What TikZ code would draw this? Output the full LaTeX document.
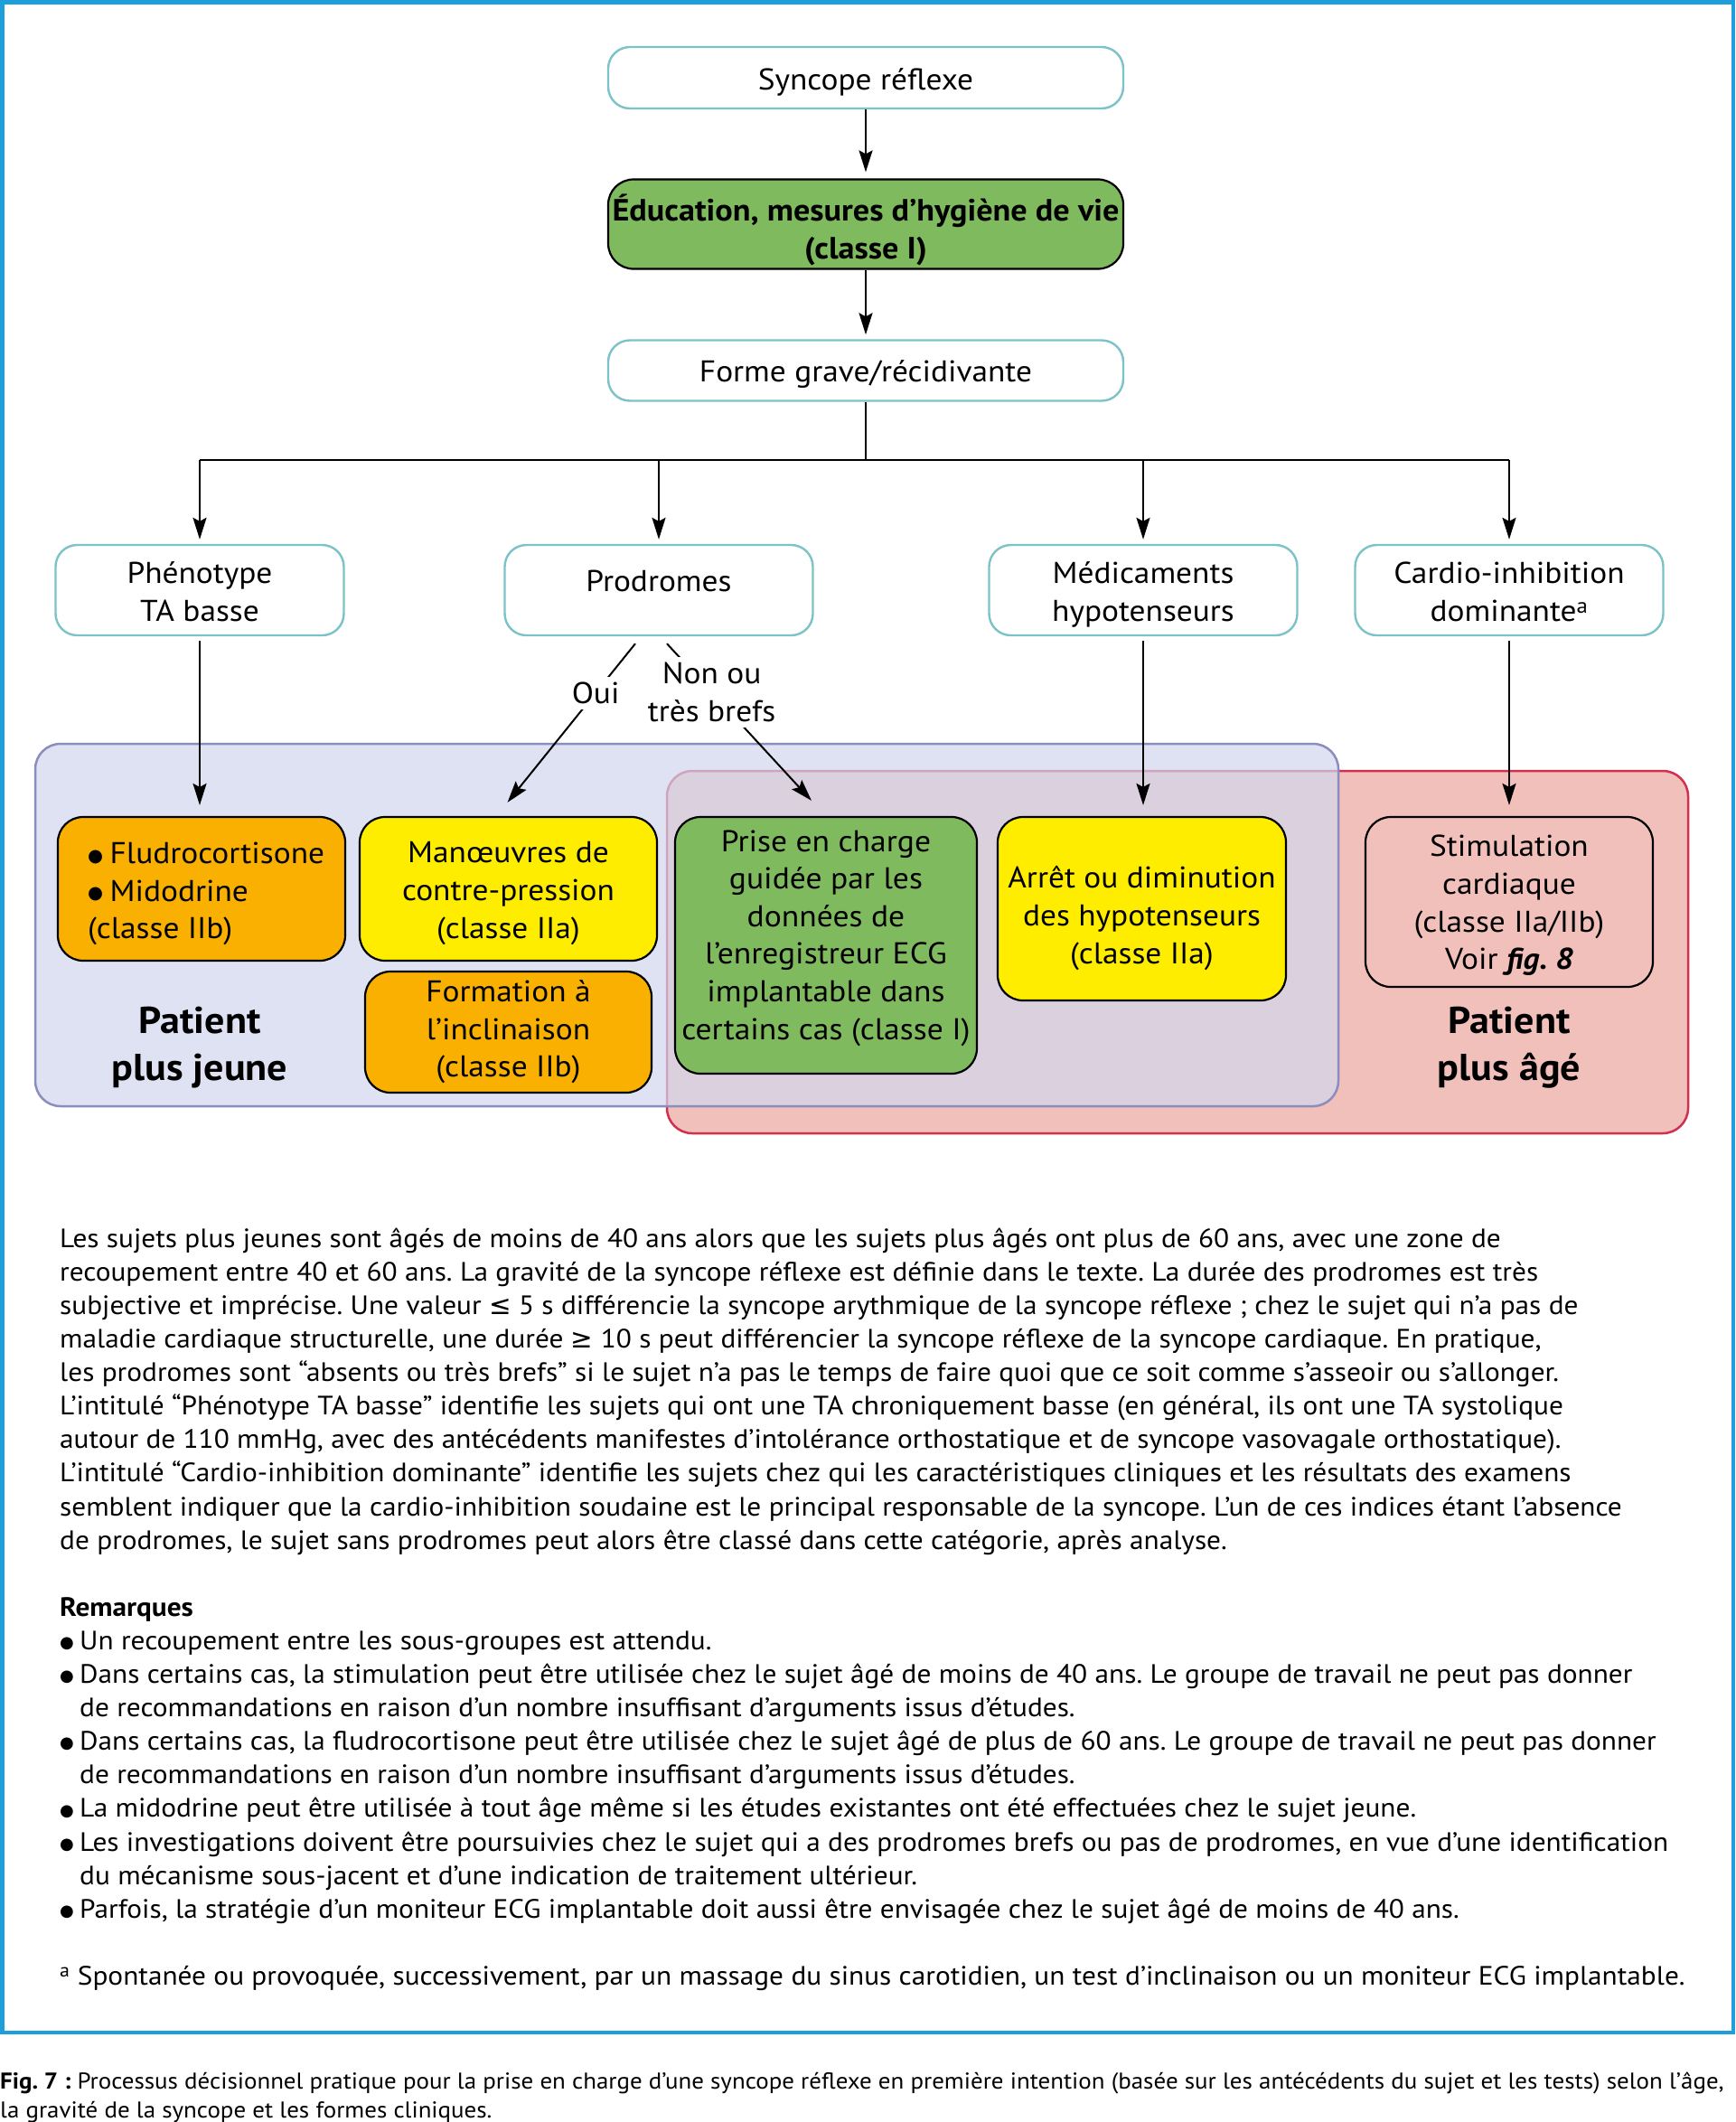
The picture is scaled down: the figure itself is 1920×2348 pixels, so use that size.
\documentclass[tikz,border=0pt]{standalone}
\usepackage{fontspec}
\setmainfont{PT Sans}[FakeStretch=1.065]
\newfontfamily\dv{DejaVu Sans}
\usetikzlibrary{arrows.meta,calc}
\definecolor{frameblue}{HTML}{1E9FDB}
\definecolor{tealc}{HTML}{7CC3C8}
\definecolor{greenc}{HTML}{7FBA5F}
\definecolor{orangec}{HTML}{F9B000}
\definecolor{yellowc}{HTML}{FFED00}
\definecolor{bluefill}{RGB}{208,215,238}
\definecolor{blueline}{HTML}{8A8DBE}
\definecolor{redfill}{HTML}{F2C0BB}
\definecolor{redline}{HTML}{D02F4F}
\newcommand\bbul{\makebox[24.5pt][l]{\raisebox{2.5pt}{\dv\fontsize{19.5}{19.5}\selectfont ●}}}
\newcommand\tbul{\makebox[22pt][l]{\raisebox{1.8pt}{\dv\fontsize{18}{18}\selectfont ●}}}
\tikzset{
  tbox/.style={draw=tealc, line width=2.4pt, rounded corners=24pt, fill=white, inner sep=0pt},
  cbox/.style={draw=black, line width=2.2pt, rounded corners=28pt, inner sep=0pt},
  btxt/.style={inner sep=0pt, align=center, font=\fontsize{33.2}{42}\selectfont},
  plain/.style={line width=2pt, draw=black},
  arr/.style={plain, -{Stealth[length=24pt,width=15pt,inset=4pt]}},
  lbl/.style={fill=white, inner sep=6pt, align=center, font=\fontsize{33.2}{42}\selectfont},
  pat/.style={align=center, inner sep=0pt, font=\fontsize{41.4}{52}\selectfont\bfseries},
}
\begin{document}
\frenchspacing
\begin{tikzpicture}[x=1pt,y=-1pt]
\useasboundingbox (0,0) rectangle (1920,2348);
\fill[white] (0,0) rectangle (1920,2348);
% outer frame
\draw[frameblue, line width=4.5pt] (2.25,2.25) rectangle (1917.75,2249);

% top chain
\node[tbox, minimum width=570pt, minimum height=68pt] (syn) at (958,86) {};
\node[btxt] (synt) at (958,90.5) {Syncope réflexe};
\node[cbox, fill=greenc, minimum width=570pt, minimum height=99pt] (edu) at (958,248) {};
\node[btxt, font=\fontsize{34}{42}\selectfont\bfseries] (edut) at (958,254) {Éducation, mesures d’hygiène de vie\\(classe I)};
\node[tbox, minimum width=570pt, minimum height=67pt] (forme) at (958,410) {};
\node[btxt] (formet) at (958,414.5) {Forme grave/récidivante};
\draw[arr, shorten >=7pt] (syn.south) -- (edu.north);
\draw[arr, shorten >=5pt] (edu.south) -- (forme.north);

% second row
\node[tbox, minimum width=319pt, minimum height=100pt] (phen) at (221,653) {};
\node[btxt] (phent) at (221,655) {Phénotype\\TA basse};
\node[tbox, minimum width=341pt, minimum height=100pt] (prod) at (729,653) {};
\node[btxt] (prodt) at (729,643) {Prodromes};
\node[tbox, minimum width=341pt, minimum height=100pt] (med) at (1265,653) {};
\node[btxt] (medt) at (1265,658) {Médicaments\\hypotenseurs};
\node[tbox, minimum width=341pt, minimum height=100pt] (card) at (1670,653) {};
\node[btxt] (cardt) at (1670,655) {Cardio-inhibition\\dominante\textsuperscript{a}};

\coordinate (hub) at (958,509);
\draw[plain] (forme.south) -- (hub);
\draw[plain] (phen.north |- hub) -- (card.north |- hub);
\foreach \n in {phen,prod,med,card} \draw[arr, shorten >=5pt] (\n.north |- hub) -- (\n.north);

% regions
\path[fill=redfill, draw=redline, line width=2.5pt, rounded corners=28pt] (738,853) rectangle (1868,1254);
\path[fill=bluefill, fill opacity=0.7, draw=blueline, line width=2.5pt, rounded corners=28pt] (39,823) rectangle (1481,1224);

% treatment boxes
\node[cbox, fill=orangec, minimum width=318pt, minimum height=159pt] (flu) at (223,983.5) {};
\node[btxt, anchor=west, align=left, font=\fontsize{33.2}{41.6}\selectfont] (flut) at (97,989) {\bbul Fludrocortisone\\\bbul Midodrine\\(classe IIb)};
\node[cbox, fill=yellowc, minimum width=329pt, minimum height=159pt] (man) at (562.5,983.5) {};
\node[btxt, font=\fontsize{33.2}{41.6}\selectfont] (mant) at (562.5,988.5) {Manœuvres de\\contre-pression\\(classe IIa)};
\node[cbox, fill=orangec, minimum width=317pt, minimum height=134pt] (form) at (562.5,1142) {};
\node[btxt, font=\fontsize{33.2}{41.6}\selectfont] (formt) at (562.5,1142) {Formation à\\l’inclinaison\\(classe IIb)};
\node[cbox, fill=greenc, minimum width=334pt, minimum height=284pt] (prise) at (914,1046) {};
\node[btxt, font=\fontsize{33.4}{41.6}\selectfont] (priset) at (914,1038) {Prise en charge\\guidée par les\\données de\\l’enregistreur ECG\\implantable dans\\certains cas (classe I)};
\node[cbox, fill=yellowc, minimum width=319pt, minimum height=203pt] (arret) at (1263.5,1005.5) {};
\node[btxt, font=\fontsize{33.2}{41.6}\selectfont] (arrett) at (1263.5,1016) {Arrêt ou diminution\\des hypotenseurs\\(classe IIa)};
\node[cbox, minimum width=318pt, minimum height=188pt] (stim) at (1670,998) {};
\node[btxt, font=\fontsize{33.2}{41.6}\selectfont] (stimt) at (1670,1002) {Stimulation\\cardiaque\\(classe IIa/IIb)\\Voir \textbf{\textit{fig. 8}}};

\node[pat] (jeune) at (221,1159) {Patient\\plus jeune};
\node[pat] (age) at (1670,1159) {Patient\\plus âgé};

% arrows to treatments
\draw[arr, shorten <=5pt, shorten >=12pt] (phen.south) -- (phen.south |- flu.north);
\draw[arr, shorten <=5pt, shorten >=12pt] (med.south) -- (med.south |- arret.north);
\draw[arr, shorten <=5pt, shorten >=12pt] (card.south) -- (card.south |- stim.north);
\draw[arr] ($(prod.south)+(-26,8)$) -- node[lbl, pos=0.31] (oui) {Oui} ($(man.north)+(-1,-15)$);
\draw[arr] ($(prod.south)+(9,8)$) -- node[lbl, pos=0.31] (non) {Non ou\\très brefs} ($(prise.north)+(-16,-17)$);

% text block
\node[anchor=north west, align=left, inner sep=0pt, font=\fontsize{29.4}{37.1}\selectfont] (txt) at (66,1358.5) {%
Les sujets plus jeunes sont âgés de moins de 40 ans alors que les sujets plus âgés ont plus de 60 ans, avec une zone de\\
recoupement entre 40 et 60 ans. La gravité de la syncope réflexe est définie dans le texte. La durée des prodromes est très\\
subjective et imprécise. Une valeur {\dv ≤} 5 s différencie la syncope arythmique de la syncope réflexe ; chez le sujet qui n’a pas de\\
maladie cardiaque structurelle, une durée {\dv ≥} 10 s peut différencier la syncope réflexe de la syncope cardiaque. En pratique,\\
les prodromes sont “absents ou très brefs” si le sujet n’a pas le temps de faire quoi que ce soit comme s’asseoir ou s’allonger.\\
L’intitulé “Phénotype TA basse” identifie les sujets qui ont une TA chroniquement basse (en général, ils ont une TA systolique\\
autour de 110 mmHg, avec des antécédents manifestes d’intolérance orthostatique et de syncope vasovagale orthostatique).\\
L’intitulé “Cardio-inhibition dominante” identifie les sujets chez qui les caractéristiques cliniques et les résultats des examens\\
semblent indiquer que la cardio-inhibition soudaine est le principal responsable de la syncope. L’un de ces indices étant l’absence\\
de prodromes, le sujet sans prodromes peut alors être classé dans cette catégorie, après analyse.\\
\mbox{}\\
\textbf{Remarques}\\
\tbul Un recoupement entre les sous-groupes est attendu.\\
\tbul Dans certains cas, la stimulation peut être utilisée chez le sujet âgé de moins de 40 ans. Le groupe de travail ne peut pas donner\\
\hspace*{22pt}de recommandations en raison d’un nombre insuffisant d’arguments issus d’études.\\
\tbul Dans certains cas, la fludrocortisone peut être utilisée chez le sujet âgé de plus de 60 ans. Le groupe de travail ne peut pas donner\\
\hspace*{22pt}de recommandations en raison d’un nombre insuffisant d’arguments issus d’études.\\
\tbul La midodrine peut être utilisée à tout âge même si les études existantes ont été effectuées chez le sujet jeune.\\
\tbul Les investigations doivent être poursuivies chez le sujet qui a des prodromes brefs ou pas de prodromes, en vue d’une identification\\
\hspace*{22pt}du mécanisme sous-jacent et d’une indication de traitement ultérieur.\\
\tbul Parfois, la stratégie d’un moniteur ECG implantable doit aussi être envisagée chez le sujet âgé de moins de 40 ans.\\
\mbox{}\\
\textsuperscript{a} Spontanée ou provoquée, successivement, par un massage du sinus carotidien, un test d’inclinaison ou un moniteur ECG implantable.};

% caption
\node[anchor=north west, align=left, inner sep=0pt, font=\fontsize{25.3}{31.5}\selectfont] (cap) at (0,2293) {%
\textbf{Fig. 7 :} Processus décisionnel pratique pour la prise en charge d’une syncope réflexe en première intention (basée sur les antécédents du sujet et les tests) selon l’âge,\\
la gravité de la syncope et les formes cliniques.};
\end{tikzpicture}
\end{document}
